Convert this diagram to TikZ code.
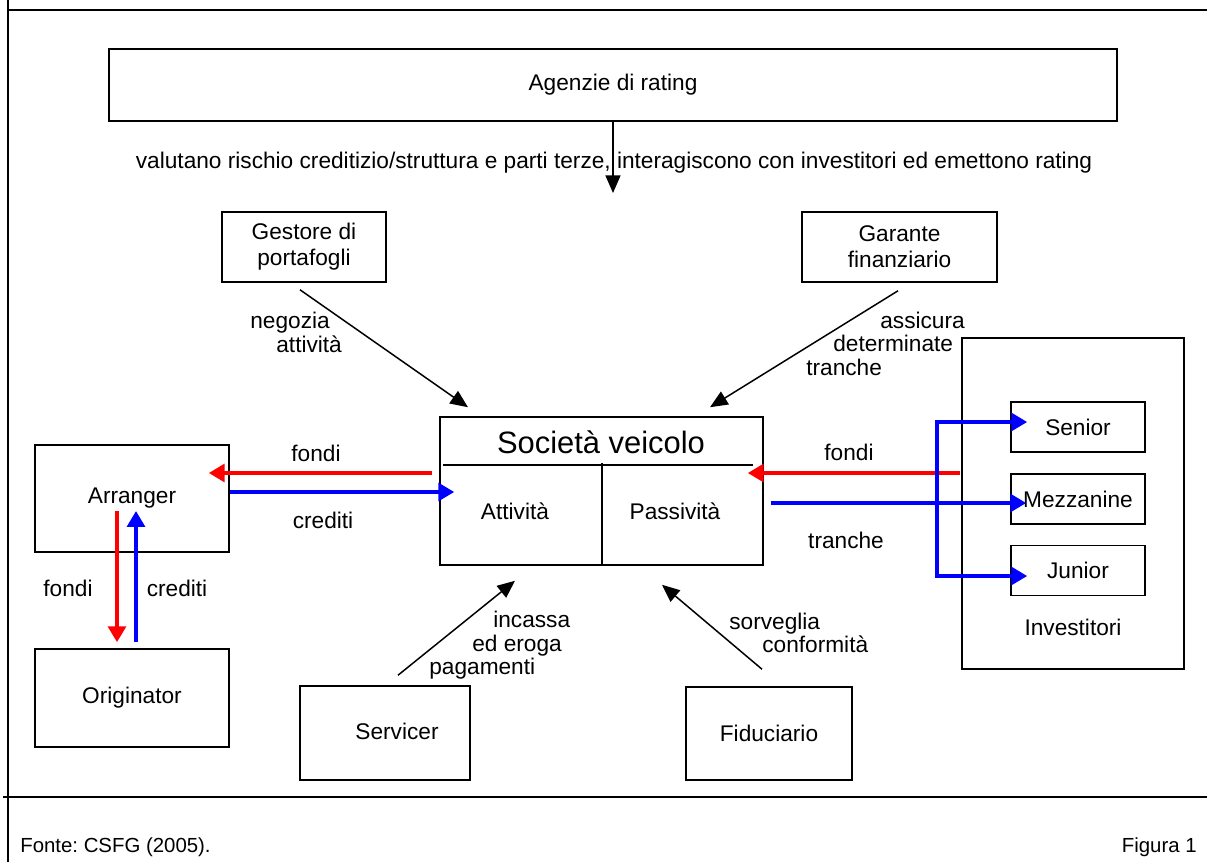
\documentclass[tikz,border=0pt]{standalone}
\usepackage{fontspec}
\setmainfont{Liberation Sans}
\usetikzlibrary{arrows.meta,calc}
\frenchspacing
\definecolor{flowred}{RGB}{255,0,0}
\definecolor{flowblue}{RGB}{0,0,255}
\tikzset{
  box/.style={draw,line width=0.9pt,inner sep=0pt,font=\fontsize{12.9}{14.8}\selectfont},
  lbl/.style={inner sep=0pt,font=\fontsize{12.9}{13.4}\selectfont},
  pointer/.style={line width=0.85pt,-{Triangle[length=10pt,width=8.5pt]}},
  redflow/.style={flowred,line width=2.8pt,-{Triangle[length=9pt,width=10pt]}},
  blueflow/.style={flowblue,line width=2.8pt,-{Triangle[length=9pt,width=10pt]}}
}
\begin{document}
\begin{tikzpicture}[x=0.02cm,y=-0.02cm]
        \useasboundingbox (0,0) rectangle (1207,862);
        \draw[line width=1.1pt] (8,0) -- (8,862);
        \draw[line width=1.1pt] (7,10) -- (1207,10);
        \draw[line width=1.1pt] (3,797) -- (1207,797);

        \node[box,minimum width=20.16cm,minimum height=1.44cm] (rating) at (613,85) {Agenzie di rating};
        \node[box,minimum width=3.28cm,minimum height=1.4cm,align=center] (gestore) at (304,247) {Gestore di\\portafogli};
        \node[box,minimum width=3.9cm,minimum height=1.4cm,align=center] (garante) at (899.5,247) {Garante\\finanziario};
        \node[box,minimum width=6.46cm,minimum height=2.96cm] (veicolo) at (601.5,491) {};
        \node[box,minimum width=3.88cm,minimum height=2.14cm] (arranger) at (132,498.5) {\raisebox{0.08cm}{Arranger}};
        \node[box,minimum width=3.88cm,minimum height=1.96cm] (originator) at (132,698) {\raisebox{0.1cm}{Originator}};
        \node[box,minimum width=3.4cm,minimum height=1.88cm] (servicer) at (385,733) {\hspace*{0.48cm}\raisebox{0.06cm}{Servicer}};
        \node[box,minimum width=3.32cm,minimum height=1.86cm] (fiduciario) at (769,733.5) {\raisebox{-0.1cm}{Fiduciario}};
        \node[box,minimum width=4.44cm,minimum height=6.62cm] (investitori) at (1073,503.5) {};
        \node[box,minimum width=2.68cm,minimum height=1cm] (senior) at (1078,427) {Senior};
        \node[box,minimum width=2.68cm,minimum height=1cm] (mezzanine) at (1078,499) {Mezzanine};
        \node[box,minimum width=2.68cm,minimum height=1cm] (junior) at (1078,570.5) {Junior};
        \node[lbl] (invtitle) at (1073,627) {Investitori};

        \node[inner sep=0pt,font=\fontsize{17.6}{20}\selectfont] (veicolotitle) at (601,442) {Società veicolo};
        \draw[line width=0.9pt] (443,465) -- (753,465);
        \draw[line width=0.9pt] (602,463) -- (602,566);
        \node[lbl] (attivita) at (515,511) {Attività};
        \node[lbl] (passivita) at (675,511) {Passività};

        \coordinate (ratingend) at (613,193);
        \draw[pointer] (rating.south) -- (ratingend);
        \node[lbl] (valutano) at (614,163) {valutano rischio creditizio/struttura e parti terze, interagiscono con investitori ed emettono rating};

        \draw[pointer] ($(gestore.south)+(-4,7)$) -- ($(veicolo.north)+(-133.5,-9)$);
        \draw[pointer] ($(garante.south)+(-1.5,8)$) -- ($(veicolo.north)+(108.5,-9)$);
        \draw[pointer] ($(servicer.north)+(13,-10)$) -- ($(veicolo.south)+(-86.5,15)$);
        \draw[pointer] ($(fiduciario.north)+(-7,-17)$) -- ($(veicolo.south)+(60.5,19)$);
        \node[lbl,anchor=west,align=left] (negozia) at (250,332.5) {negozia\\\hspace*{0.52cm}attività};
        \node[lbl,anchor=west,align=left] (assicura) at (806,343.5) {\hspace*{1.48cm}assicura\\\hspace*{0.54cm}determinate\\tranche};
        \node[lbl,anchor=west,align=left] (incassa) at (429,645.5) {\hspace*{1.28cm}incassa\\\hspace*{0.86cm}ed eroga\\pagamenti};
        \node[lbl,anchor=west,align=left] (sorveglia) at (729,633) {sorveglia\\\hspace*{0.66cm}conformità};

        \draw[redflow] ($(veicolo.west)+(-7,-18)$) -- ($(arranger.east)+(-21,-25.5)$);
        \draw[blueflow] ($(arranger.east)+(0,-6.5)$) -- ($(veicolo.west)+(15,1)$);
        \node[lbl] (fondiA) at (316,453) {fondi};
        \node[lbl] (creditiA) at (323,520) {crediti};

        \draw[redflow] ($(arranger)+(-15,12.5)$) -- ($(originator.north)+(-15,-6)$);
        \draw[blueflow] ($(originator.north)+(4,-6)$) -- ($(arranger)+(4,12.5)$);
        \node[lbl] (fondiB) at (68,588) {fondi};
        \node[lbl] (creditiB) at (177,588) {crediti};

        \draw[redflow] ($(investitori.west)+(-1,-30.5)$) -- ($(veicolo.east)+(-16,-18)$);
        \coordinate (split) at (937,503);
        \draw[blueflow] ($(veicolo.east)+(7,12)$) -- ($(mezzanine.west)+(16,4)$);
        \draw[blueflow] (split) |- ($(senior.west)+(17,-5)$);
        \draw[blueflow] (split) |- ($(junior.west)+(17,5.5)$);
        \node[lbl] (fondiC) at (849,452) {fondi};
        \node[lbl] (tranche) at (846,540) {tranche};

        \node[lbl,anchor=west,font=\fontsize{11.6}{12}\selectfont] (fonte) at (20,847) {Fonte: CSFG (2005).};
        \node[lbl,anchor=east,font=\fontsize{11.6}{12}\selectfont] (figura) at (1197,847) {Figura 1};
    \end{tikzpicture}
\end{document}
